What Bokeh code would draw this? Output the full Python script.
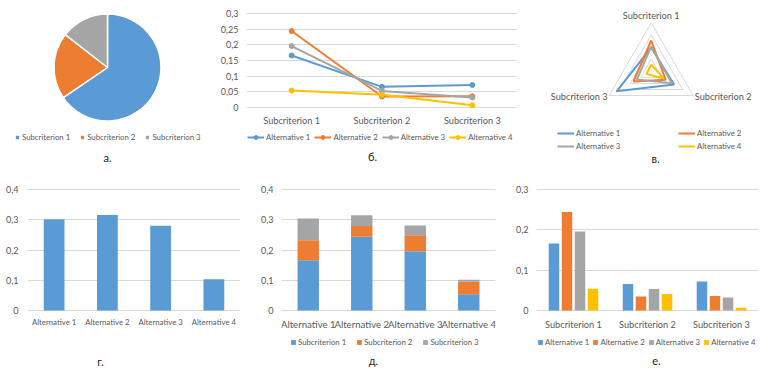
import math
from bokeh.plotting import figure
from bokeh.layouts import row, column
from bokeh.models import (Range1d, FactorRange, Legend, LegendItem, Label, FixedTicker,
                          CustomJSTickFormatter, ColumnDataSource)
from bokeh.transform import dodge
from bokeh.core.properties import value
from bokeh.embed import file_html
from bokeh.resources import INLINE

FONT = "Lato"
TXT = "#595959"
GRID = "#D9D9D9"
BLUE, ORANGE, GRAY, YELLOW = "#5B9BD5", "#ED7D31", "#A5A5A5", "#FFC000"
COLORS = [BLUE, ORANGE, GRAY, YELLOW]

# ---------------- data ----------------
subcriteria = ["Subcriterion 1", "Subcriterion 2", "Subcriterion 3"]
alternatives = ["Alternative 1", "Alternative 2", "Alternative 3", "Alternative 4"]
subcriterion_weights = [0.655, 0.200, 0.145]
alt1_local = [0.166, 0.066, 0.072]
alt2_local = [0.244, 0.035, 0.036]
alt3_local = [0.196, 0.053, 0.032]
alt4_local = [0.054, 0.041, 0.007]
alt1_radar = [0.195, 0.218, 0.330]
alt2_radar = [0.254, 0.138, 0.168]
alt3_radar = [0.206, 0.195, 0.136]
alt4_radar = [0.056, 0.120, 0.044]
radar_rings = [0.1, 0.2, 0.3, 0.4]
global_priority = [0.302, 0.316, 0.280, 0.103]
ticks_line = [0, 0.05, 0.1, 0.15, 0.2, 0.25, 0.3]
ticks_total = [0, 0.1, 0.2, 0.3, 0.4]
ticks_group = [0, 0.1, 0.2, 0.3]
captions = ["а.", "б.", "в.", "г.", "д.", "е."]

local_values = [alt1_local, alt2_local, alt3_local, alt4_local]
radar_values = [alt1_radar, alt2_radar, alt3_radar, alt4_radar]

FMT = CustomJSTickFormatter(code="""
if (tick == 0) { return "0"; }
return tick.toFixed(2).replace(/0+$/, "").replace(".", ",");
""")

NEG = -15  # label standoff that keeps the category axis from reserving room below the frame
LEG_FONT = "7.8px"


def base(w, h, xr, yr, left, right, axes=True):
    kw = dict(width=w, height=h, x_range=xr, y_range=yr, output_backend="svg",
              toolbar_location=None, min_border_left=left, min_border_right=right,
              min_border_top=0, min_border_bottom=0)
    if not axes:
        kw.update(x_axis_type=None, y_axis_type=None)
    p = figure(**kw)
    p.outline_line_color = None
    p.border_fill_color = "white"
    p.background_fill_color = "white"
    if not axes:
        p.grid.visible = False
    return p


def style_axes(p, yticks, xfont, xloc, ystandoff=8):
    p.yaxis.ticker = FixedTicker(ticks=yticks)
    p.yaxis.formatter = FMT
    for ax in p.axis:
        ax.axis_line_color = None
        ax.major_tick_line_color = None
        ax.minor_tick_line_color = None
        ax.major_tick_out = 0
        ax.major_tick_in = 0
        ax.major_label_text_font = FONT
        ax.major_label_text_color = TXT
    p.yaxis.major_label_text_font_size = "9px"
    p.yaxis.major_label_standoff = ystandoff
    p.xaxis.major_label_text_font_size = xfont
    p.xaxis.major_label_standoff = NEG
    p.xaxis.fixed_location = xloc
    p.xgrid.grid_line_color = None
    p.ygrid.grid_line_color = GRID
    p.ygrid.grid_line_width = 1


def add_legend(p, items, vx, vy, orientation="horizontal", gw=6, gh=6, spacing=10,
               size=LEG_FONT):
    lg = Legend(items=items, location=(vx, vy), orientation=orientation,
                glyph_width=gw, glyph_height=gh, label_height=gh, label_width=10,
                label_standoff=2, spacing=spacing, padding=0, margin=0,
                border_line_color=None, background_fill_alpha=0,
                label_text_font=FONT, label_text_font_size=size, label_text_color=TXT)
    p.add_layout(lg)


def add_caption(p, text, x, y):
    p.add_layout(Label(x=x, y=y, x_units="screen", y_units="screen", text=text,
                       text_align="center", text_baseline="middle",
                       text_font=FONT, text_font_size="11px", text_color="#222222"))


# ================= top row (height 170) =================
# ---------------- а. pie ----------------
pa = base(210, 170, Range1d(-107, 103), Range1d(-103, 67), 0, 0, axes=False)
cum = [0.0]
for wgt in subcriterion_weights:
    cum.append(cum[-1] + wgt)
total = cum[-1]
pie_src = ColumnDataSource(dict(
    name=subcriteria,
    start=[math.pi / 2 - 2 * math.pi * c / total for c in cum[:-1]],
    end=[math.pi / 2 - 2 * math.pi * c / total for c in cum[1:]],
    color=COLORS[:3]))
wr = pa.wedge(x=0, y=0, radius=53.5, start_angle="start", end_angle="end", direction="clock",
              fill_color="color", line_color="white", line_width=1.5, source=pie_src)
add_legend(pa, [LegendItem(label=subcriteria[i], renderers=[wr], index=i) for i in range(3)],
           14, 28, spacing=9)
add_caption(pa, captions[0], 107, 13)

# ---------------- б. line ----------------
px_line = 94 / 0.3          # pixels per unit on the line chart
pb = base(307, 170, FactorRange(*subcriteria),
          Range1d(-63 / px_line, 0.3 + 13 / px_line), 36, 0)
style_axes(pb, ticks_line, "9.2px", -22 / px_line)
items = []
for i, vals in enumerate(local_values):
    l = pb.line(x=subcriteria, y=vals, line_color=COLORS[i], line_width=2)
    s = pb.scatter(x=subcriteria, y=vals, size=5, fill_color=COLORS[i], line_color=COLORS[i])
    items.append(LegendItem(label=alternatives[i], renderers=[l, s]))
add_legend(pb, items, 1, 28, gw=17, gh=10, spacing=4)
add_caption(pb, captions[1], 126, 14)

# ---------------- в. radar ----------------
k = 0.4 / 48.5
pc = base(253, 170, Range1d(-133.7 * k, 119.3 * k), Range1d(-99.2 * k, 70.8 * k), 0, 0, axes=False)
angles = [2 * math.pi * j / len(subcriteria) for j in range(len(subcriteria))]


def poly(vals):
    xs = [v * math.sin(a) for v, a in zip(vals, angles)]
    ys = [v * math.cos(a) for v, a in zip(vals, angles)]
    return xs + xs[:1], ys + ys[:1]


for rr in radar_rings:
    xs, ys = poly([rr] * 3)
    pc.line(xs, ys, line_color=GRID, line_width=1)
rad_r = []
for i, vals in enumerate(radar_values):
    xs, ys = poly(vals)
    rad_r.append(pc.line(xs, ys, line_color=COLORS[i], line_width=2))
label_r = [0.4627, 0.415, 0.415]
aligns = ["center", "left", "right"]
for j, name in enumerate(subcriteria):
    pc.text(x=[label_r[j] * math.sin(angles[j])], y=[label_r[j] * math.cos(angles[j])], text=[name],
            text_align=aligns[j], text_baseline="middle", text_font=value(FONT),
            text_font_size="9.2px", text_color=TXT)
add_legend(pc, [LegendItem(label=alternatives[0], renderers=[rad_r[0]]),
                LegendItem(label=alternatives[2], renderers=[rad_r[2]])],
           40, 19, orientation="vertical", gw=17, gh=10, spacing=3)
add_legend(pc, [LegendItem(label=alternatives[1], renderers=[rad_r[1]]),
                LegendItem(label=alternatives[3], renderers=[rad_r[3]])],
           161, 19, orientation="vertical", gw=17, gh=10, spacing=3)
add_caption(pc, captions[2], 138, 12)

# ================= bottom row (height 198) =================
px_tot = 121 / 0.4
px_grp = 121 / 0.3

# ---------------- г. total bars ----------------
pd_ = base(245, 198, FactorRange(*alternatives),
           Range1d(-58 / px_tot, 0.4 + 19 / px_tot), 27, 5)
style_axes(pd_, ticks_total, "7.8px", -21 / px_tot, ystandoff=9)
pd_.vbar(x=alternatives, top=global_priority, width=0.39, fill_color=BLUE, line_color=None)
add_caption(pd_, captions[3], 73, 7)

# ---------------- д. stacked bars ----------------
pe = base(255, 198, FactorRange(*alternatives),
          Range1d(-58 / px_tot, 0.4 + 19 / px_tot), 36, 5)
style_axes(pe, ticks_total, "9.6px", -23 / px_tot)
stack_src = ColumnDataSource(dict(
    alt=alternatives,
    s1=[v[0] for v in local_values],
    s2=[v[1] for v in local_values],
    s3=[v[2] for v in local_values]))
rs = pe.vbar_stack(["s1", "s2", "s3"], x="alt", width=0.4, color=COLORS[:3], line_color=None,
                   source=stack_src)
add_legend(pe, [LegendItem(label=subcriteria[i], renderers=[rs[i]]) for i in range(3)],
           9, 21, spacing=10)
add_caption(pe, captions[4], 92, 8)

# ---------------- е. grouped bars ----------------
pf = base(270, 198, FactorRange(*subcriteria),
          Range1d(-58 / px_grp, 0.3 + 19 / px_grp), 36, 12)
style_axes(pf, ticks_group, "9.2px", -23 / px_grp)
grp = dict(sub=subcriteria)
for i, vals in enumerate(local_values):
    grp["a%d" % i] = vals
grp_src = ColumnDataSource(grp)
offsets = [-0.264, -0.088, 0.088, 0.264]
rg = []
for i in range(4):
    rg.append(pf.vbar(x=dodge("sub", offsets[i], range=pf.x_range), top="a%d" % i, width=0.142,
                      fill_color=COLORS[i], line_color=None, source=grp_src))
add_legend(pf, [LegendItem(label=alternatives[i], renderers=[rg[i]]) for i in range(4)],
           1, 21, spacing=3)
add_caption(pf, captions[5], 120, 8)

layout = column(row(pa, pb, pc), row(pd_, pe, pf))
open("out.html", "w").write(file_html(layout, INLINE))
